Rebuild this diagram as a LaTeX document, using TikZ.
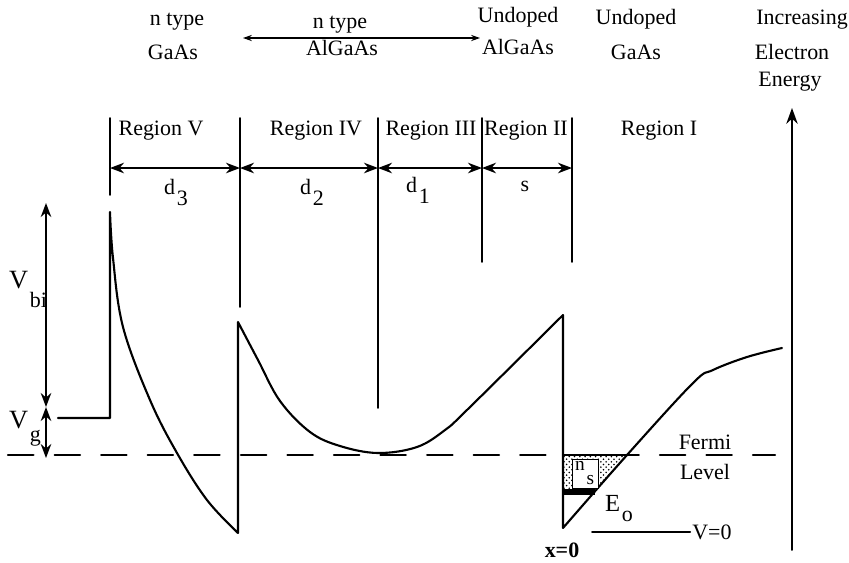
\documentclass[tikz,border=0pt]{standalone}
\usepackage{fontspec}
\setmainfont{Liberation Serif}
\usepackage{tikz}
\usetikzlibrary{
  arrows.meta, % Stealth 箭头
  patterns     % 电子填充的点状图案
}
\tikzset{
  band edge/.style={line width=1.2pt, line join=round},
  divider/.style={line width=0.9pt},
  dim arrow/.style={
    {Stealth[length=8pt,width=6pt]}-{Stealth[length=8pt,width=6pt]},
    line width=1.1pt
  },
  fermi line/.style={line width=1.2pt, dash pattern=on 14.5pt off 12pt},
  lbl/.style={font=\fontsize{12.5}{14}\selectfont, inner sep=1pt}
}
% 下沉的下标
\newcommand{\dropsub}[2]{\raisebox{-#1}{#2}}

\begin{document}
\begin{tikzpicture}[x=0.02cm, y=-0.02cm, line cap=round]
  \useasboundingbox (0,0) rectangle (849,562);

  % ===================================
  % 顶部材料说明
  % ===================================
  \node[lbl] (ngaas1)  at (177,22) {n type};
  \node[lbl] (ngaas2)  at (173,52) {GaAs};
  \node[lbl] (nalg1)   at (340,25) {n type};
  \node[lbl] (nalg2)   at (342,48) {AlGaAs};
  \node[lbl] (ualg1)   at (518,17) {Undoped};
  \node[lbl] (ualg2)   at (518,47) {AlGaAs};
  \node[lbl] (ugaas1)  at (636,19) {Undoped};
  \node[lbl] (ugaas2)  at (636,52) {GaAs};
  \node[lbl] (incr)    at (802,20) {Increasing};
  \node[lbl] (elec)    at (792,52) {Electron};
  \node[lbl] (energy)  at (790,82) {Energy};

  % n 型 AlGaAs 的范围箭头
  \coordinate (NA) at (243,38);
  \coordinate (NB) at (480,38);
  \draw[{Stealth[length=5pt,width=3.5pt]}-{Stealth[length=5pt,width=3.5pt]}, line width=0.7pt] (NA) -- (NB);

  % ===================================
  % 区域分界线与宽度标注
  % ===================================
  \foreach \x/\yb in {110/195, 240/307, 378/408, 482/262, 572/262} {
    \draw[divider] (\x,118) -- (\x,\yb);
  }
  \foreach \xa/\xb in {110/240, 240/378, 378/482, 482/572} {
    \draw[dim arrow] (\xa,168) -- (\xb,168);
  }

  \node[lbl] (regV)   at (161,131) {Region V};
  \node[lbl] (regIV)  at (316,131) {Region IV};
  \node[lbl] (regIII) at (431,131) {Region III};
  \node[lbl] (regII)  at (526,131) {Region II};
  \node[lbl] (regI)   at (659,131) {Region I};

  \node[lbl, anchor=base west] (dthree) at (162,194) {d\kern1pt\dropsub{6.8pt}{3}};
  \node[lbl, anchor=base west] (dtwo)   at (298,194) {d\kern1pt\dropsub{6.8pt}{2}};
  \node[lbl, anchor=base west] (done)   at (404,192) {d\kern1pt\dropsub{6.8pt}{1}};
  \node[lbl] (sdist) at (525,186) {s};

  % ===================================
  % 导带边
  % ===================================
  \draw[band edge] (58,418) -- (110,418) -- (110,212)
    -- plot[smooth, tension=0.6] coordinates {(110,212) (113,258) (123,327) (150,400) (177,453) (207,500) (238,533)}
    -- (238,322)
    -- plot[smooth, tension=0.6] coordinates {(238,322) (258,360) (280,401) (310,432) (340,446) (378,453) (417,447) (445,430) (468,409) (563,315)}
    -- (563,528)
    -- plot[smooth, tension=0.6] coordinates {(563,528) (627,455) (693,383) (713,370) (747,357) (782,348)};

  % 二维电子气：填充到费米能级
  \fill[pattern=crosshatch dots] (563,455) -- (628,455) -- (595,492) -- (563,492) -- cycle;
  \draw[line width=1.2pt] (563,455) -- (628,455);
  \filldraw[fill=white, line width=0.5pt] (572,459) rectangle (598,488);
  \draw[line width=3pt, line cap=butt] (563,492) -- (595,492);
  \node[lbl, anchor=base west, font=\fontsize{11}{12}\selectfont] (ns) at (573,470) {n\kern1pt\dropsub{8pt}{s}};

  % 费米能级
  \draw[fermi line] (8,455) -- (775,455);
  \node[lbl] (fermi) at (705,442) {Fermi};
  \node[lbl] (level) at (705,472) {Level};

  % ===================================
  % 左侧电势差
  % ===================================
  \coordinate (Vtop) at (46,203);
  \coordinate (Vmid) at (46,407);
  \coordinate (Vbot) at (46,458);
  \draw[dim arrow] (Vmid) -- (Vtop);
  \draw[dim arrow] (Vmid) -- (Vbot);
  \node[lbl, anchor=base west] (vbi) at (7,288) {{\fontsize{15}{15}\selectfont V}\kern1pt\dropsub{11pt}{bi}};
  \node[lbl, anchor=base west] (vg)  at (7,428) {{\fontsize{15}{15}\selectfont V}\kern1pt\dropsub{7.5pt}{g}};

  % ===================================
  % 底部标注
  % ===================================
  \node[lbl, anchor=base west, font=\fontsize{14}{15}\selectfont] (eo) at (603,511) {E\kern1pt\dropsub{6pt}{\fontsize{12.5}{14}\selectfont o}};
  \node[lbl, font=\fontsize{12.5}{14}\selectfont\bfseries] (xzero) at (562,550) {x=0};
  \node[lbl] (vzero) at (712,532) {V=0};
  \coordinate (Vline) at (592,532);
  \draw[line width=1pt] (Vline) -- (vzero.west);

  % 能量方向
  \coordinate (Ebot) at (792,550);
  \coordinate (Etop) at (792,108);
  \draw[-{Stealth[length=9pt,width=6.5pt]}, line width=1.1pt] (Ebot) -- (Etop);

\end{tikzpicture}
\end{document}
